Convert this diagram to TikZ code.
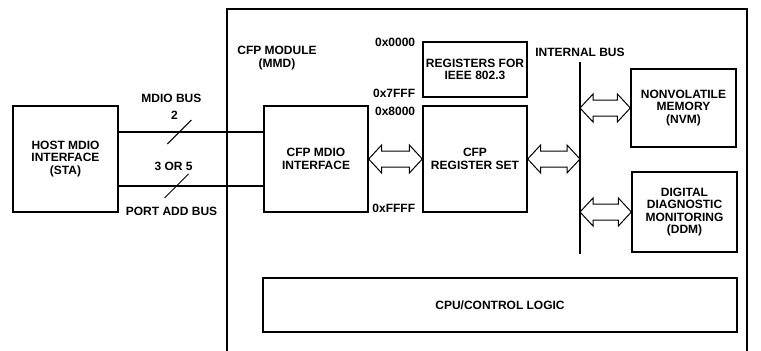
\documentclass[tikz,border=0pt]{standalone}
\usepackage{fontspec}
\setmainfont{Liberation Sans}
\usetikzlibrary{calc, positioning}

% hollow double arrow between two points on one level
\newcommand{\busarrow}[2]{%
  \draw[line width=1pt, fill=white] let \p1=(#1), \p2=(#2) in
    (\x1,\y1) -- (\x1+13pt,\y1+14pt) -- (\x1+13pt,\y1+8pt) -- (\x2-13pt,\y1+8pt)
    -- (\x2-13pt,\y1+14pt) -- (\x2,\y1) -- (\x2-13pt,\y1-14pt) -- (\x2-13pt,\y1-8pt)
    -- (\x1+13pt,\y1-8pt) -- (\x1+13pt,\y1-14pt) -- cycle;}

\begin{document}
\begin{tikzpicture}[x=1pt, y=-1pt, font=\fontsize{12}{12.5}\selectfont\bfseries,
  blk/.style={draw, line width=1.3pt, align=center, inner sep=0pt},
  txt/.style={align=center, inner sep=0pt},
  addr/.style={inner sep=0pt},
  wire/.style={line width=1.3pt}]
\useasboundingbox (0,0) rectangle (761,351);

% module frame, open at the bottom
\draw[wire] (227,356) -- (227,9) -- (747,9) -- (747,356);
\node[txt] (modlbl) at (277,58) {CFP MODULE\\(MMD)};

\node[blk, minimum width=105pt, minimum height=106pt] (host) at (65.5,159) {HOST MDIO\\INTERFACE\\(STA)};
\node[blk, minimum width=104pt, minimum height=106pt] (mdio) at (316,159) {CFP MDIO\\INTERFACE};
\node[blk, minimum width=104pt, minimum height=55pt] (regs) at (475,69.5) {REGISTERS FOR\\IEEE 802.3};
\node[blk, minimum width=104pt, minimum height=106pt] (regset) at (475,159) {CFP\\REGISTER SET};
\node[blk, minimum width=105pt, minimum height=78pt] (nvm) at (683.5,108) {NONVOLATILE\\MEMORY\\(NVM)};
\node[blk, minimum width=105pt, minimum height=80pt] (ddm) at (684.5,212) {DIGITAL\\DIAGNOSTIC\\MONITORING\\(DDM)};
\node[blk, minimum width=474pt, minimum height=54pt] (cpu) at (500,305) {CPU/CONTROL LOGIC};

% address ranges
\node[addr, left=7pt of regs.north west, yshift=-1pt] (a0) {0x0000};
\node[addr, left=7pt of regs.south west, yshift=4pt] (a1) {0x7FFF};
\node[addr, left=7pt of regset.north west, yshift=-6pt] (a2) {0x8000};
\node[addr, left=7pt of regset.south west, yshift=4pt] (a3) {0xFFFF};

% internal bus
\coordinate (bustop) at (580,62);
\coordinate (busbot) at (580,254);
\draw[wire] (bustop) -- (busbot);
\node[txt, above=5pt of bustop] (buslbl) {INTERNAL BUS};

% MDIO bus and port address bus
\draw[wire] ([yshift=27pt]host.east) coordinate (h1) -- coordinate[pos=0.42] (s1) (h1 -| mdio.west);
\draw[wire] ([yshift=-27pt]host.east) coordinate (h2) -- coordinate[pos=0.4] (s2) (h2 -| mdio.west);
\draw[line width=1pt] ($(s1)+(-12,12)$) -- ($(s1)+(12,-12)$);
\draw[line width=1pt] ($(s2)+(-12,12)$) -- ($(s2)+(12,-12)$);
\node[txt, above=12pt of s1, xshift=-5pt] (n2) {2};
\node[txt, above=8pt of n2, xshift=-3pt] (mdiolbl) {MDIO BUS};
\node[txt, above=15pt of s2, xshift=-3pt] (n35) {3 OR 5};
\node[txt, below=21pt of s2, xshift=-5pt] (portlbl) {PORT ADD BUS};

\busarrow{mdio.east}{regset.west}
\busarrow{regset.east}{regset.east -| bustop}
\busarrow{nvm.west -| bustop}{nvm.west}
\busarrow{ddm.west -| bustop}{ddm.west}
\end{tikzpicture}
\end{document}
